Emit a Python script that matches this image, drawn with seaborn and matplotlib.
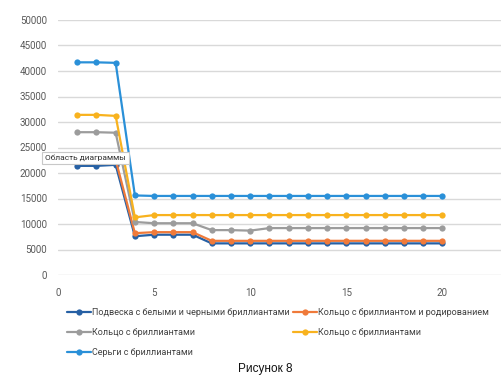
import numpy as np
import pandas as pd
import matplotlib
matplotlib.use('Agg')
import matplotlib.pyplot as plt
import seaborn as sns

# -----------------------------
# data
# -----------------------------
x_points = list(range(1, 21))

podveska = [21400, 21400, 21600, 7600, 7900, 7900, 7900] + [6200] * 13
kolco_rod = [22400, 22400, 22600, 8200, 8400, 8400, 8400] + [6700] * 13
kolco_gray = [28000, 28000, 27900, 10400, 10150, 10150, 10150, 8800, 8800, 8700] + [9200] * 10
kolco_yellow = [31400, 31400, 31200, 11300] + [11750] * 16
sergi = [41700, 41700, 41600, 15600] + [15500] * 16

series_names = [
    'Подвеска с белыми и черными бриллиантами',
    'Кольцо с бриллиантом и родированием',
    'Кольцо с бриллиантами',
    'Кольцо с бриллиантами',
    'Серьги с бриллиантами',
]
series_values = [podveska, kolco_rod, kolco_gray, kolco_yellow, sergi]
series_colors = ['#2660a4', '#ef7a3a', '#9c9c9c', '#f8b21e', '#2a90d8']

y_ticks = list(range(0, 50001, 5000))
x_ticks = [0, 5, 10, 15, 20]

# -----------------------------
# figure
# -----------------------------
sns.set_style('white')
plt.rcParams['font.family'] = ['Roboto', 'DejaVu Sans']

fig = plt.figure(figsize=(5.02, 3.86), dpi=100)
ax = fig.add_axes([58 / 502, 1 - 275 / 386, 1 - 58 / 502, (275 - 20) / 386])

handles = []
for name, vals, col in zip(series_names, series_values, series_colors):
    df = pd.DataFrame({'x': x_points, 'y': vals})
    sns.lineplot(data=df, x='x', y='y', ax=ax, color=col, marker='o',
                 markersize=4.5, markeredgewidth=0, linewidth=1.6, label=name, legend=False)
    handles.append(ax.lines[-1])

ax.set_xlim(0, 23.1)
ax.set_ylim(0, 50000)
ax.set_yticks(y_ticks)
ax.set_xticks(x_ticks)
ax.set_xlabel('')
ax.set_ylabel('')
ax.grid(axis='y', color='#d9d9d9', linewidth=1.0)
ax.grid(axis='x', visible=False)
for s in ax.spines.values():
    s.set_visible(False)
ax.tick_params(axis='both', length=0, labelsize=7, labelcolor='#595959')
ax.tick_params(axis='y', pad=8)
ax.tick_params(axis='x', pad=9)
ax.set_axisbelow(True)

# legend: row-major order in two columns
order = [0, 2, 4, 1, 3]
leg = fig.legend([handles[i] for i in order], [series_names[i] for i in order],
                 ncol=2, loc='upper left', bbox_to_anchor=(67 / 502, 1 - 308 / 386),
                 frameon=False, fontsize=6.5, handlelength=2.7, handletextpad=0.1,
                 columnspacing=0.3, labelspacing=1.2, borderpad=0, borderaxespad=0)
for t in leg.get_texts():
    t.set_color('#404040')

# chart-area tooltip as in the screenshot
fig.text(45 / 502, 1 - 158 / 386, 'Область диаграммы', fontsize=6, color='#303030',
         va='center', ha='left',
         bbox=dict(boxstyle='square,pad=0.35', facecolor='white', edgecolor='#c8c8c8', linewidth=0.8))

fig.text(265 / 502, 1 - 369 / 386, 'Рисунок 8', fontsize=8.5, color='#111111',
         ha='center', va='center', family=['Liberation Sans', 'DejaVu Sans'])

fig.savefig('out.png', dpi=100)
